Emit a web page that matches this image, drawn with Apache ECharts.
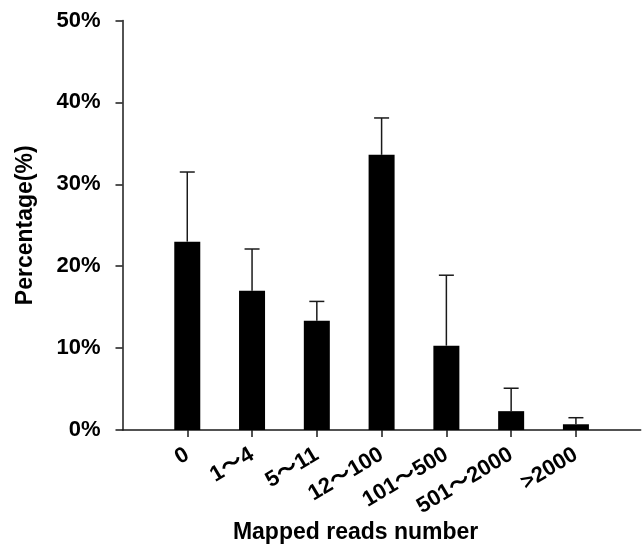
<!DOCTYPE html>
<html>
<head>
<meta charset="utf-8">
<script src="https://cdn.jsdelivr.net/npm/echarts@6/dist/echarts.min.js"></script>
<style>
html,body{margin:0;padding:0;background:#fff;}
#chart{width:643px;height:545px;}
</style>
</head>
<body>
<div id="chart"></div>
<script>
const categories = ['0', '1～4', '5～11', '12～100', '101～500', '501～2000', '>2000'];
const means = [23.0, 17.0, 13.35, 33.6, 10.3, 2.3, 0.7];
const errors = [8.5, 5.1, 2.35, 4.5, 8.6, 2.8, 0.8];
const yTicks = [0, 10, 20, 30, 40, 50];

const FONT = '"Liberation Sans", Arial, "Noto Sans CJK SC", sans-serif';
const INK = '#1a1a1a';

// pad categories so ticks fall at 1..7 on an axis spanning 0..8
const xData = [''].concat(categories, ['']);
const barData = [null].concat(means, [null]);
const errData = means.map((m, i) => [i + 1, m, m + errors[i]]);
const inRange = (idx) => idx >= 1 && idx <= categories.length;

const chart = echarts.init(document.getElementById('chart'), null, {renderer: 'canvas'});
chart.setOption({
  animation: false,
  backgroundColor: '#fff',
  grid: {left: 122.5, right: 2.3, top: 20.5, bottom: 115, containLabel: false, outerBoundsMode: 'none'},
  xAxis: {
    type: 'category',
    data: xData,
    boundaryGap: false,
    name: 'Mapped reads number',
    nameLocation: 'middle',
    nameGap: 91,
    nameMoveOverlap: false,
    nameTextStyle: {fontFamily: FONT, fontWeight: 'bold', fontSize: 23, color: '#000', padding: [0, 52, 0, 0]},
    axisLine: {lineStyle: {color: INK, width: 1.5}},
    axisTick: {show: true, length: 7, inside: false, interval: (i) => inRange(i), lineStyle: {color: INK, width: 1.5}},
    axisLabel: {
      interval: (i) => inRange(i),
      rotate: 31,
      margin: 23,
      fontFamily: FONT, fontWeight: 'bold', fontSize: 22, color: '#000'
    },
    splitLine: {show: false}
  },
  yAxis: {
    type: 'value',
    min: yTicks[0],
    max: yTicks[yTicks.length - 1],
    interval: 10,
    name: 'Percentage(%)',
    nameLocation: 'middle',
    nameGap: 85,
    nameMoveOverlap: false,
    nameTextStyle: {fontFamily: FONT, fontWeight: 'bold', fontSize: 23, color: '#000'},
    axisLine: {show: true, lineStyle: {color: INK, width: 1.5}},
    axisTick: {show: true, length: 7, inside: false, lineStyle: {color: INK, width: 1.5}},
    axisLabel: {formatter: '{value}%', margin: 22, fontFamily: FONT, fontWeight: 'bold', fontSize: 22, color: '#000'},
    splitLine: {show: false}
  },
  series: [
    {
      type: 'custom',
      z: 1,
      data: errData,
      renderItem: function (params, api) {
        const x = api.value(0);
        const p0 = api.coord([x, api.value(1)]);
        const p1 = api.coord([x, api.value(2)]);
        const half = 7.5;
        return {
          type: 'group',
          children: [
            {type: 'line', shape: {x1: p0[0], y1: p0[1], x2: p1[0], y2: p1[1]}, style: {stroke: INK, lineWidth: 1.5}},
            {type: 'line', shape: {x1: p1[0] - half, y1: p1[1], x2: p1[0] + half, y2: p1[1]}, style: {stroke: INK, lineWidth: 1.5}}
          ]
        };
      }
    },
    {
      type: 'bar',
      z: 2,
      data: barData,
      barWidth: 26,
      itemStyle: {color: '#000'}
    }
  ]
});
</script>
</body>
</html>
